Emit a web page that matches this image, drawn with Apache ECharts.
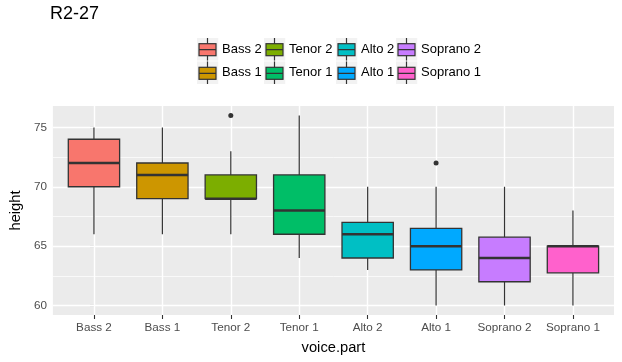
<!DOCTYPE html>
<html>
<head>
<meta charset="utf-8">
<script src="https://cdn.jsdelivr.net/npm/echarts@6/dist/echarts.min.js"></script>
<style>html,body{margin:0;padding:0;background:#fff;}#c{width:622px;height:362px;}</style>
</head>
<body>
<div id="c"></div>
<script>
// ---- data ----
const categories = ['Bass 2', 'Bass 1', 'Tenor 2', 'Tenor 1', 'Alto 2', 'Alto 1', 'Soprano 2', 'Soprano 1'];
const whiskerLow  = [66, 66, 66, 64, 63, 60, 60, 60];
const q1Values    = [70, 69, 69, 66, 64, 63, 62, 62.75];
const medians     = [72, 71, 69, 68, 66, 65, 64, 65];
const q3Values    = [74, 72, 71, 71, 67, 66.5, 65.75, 65];
const whiskerHigh = [75, 75, 73, 76, 70, 70, 70, 68];
const outliers    = [[2, 76], [5, 72]]; // [category index, height]
const yTicks      = [60, 65, 70, 75];
const yMinorTicks = [62.5, 67.5, 72.5];
const colors = ['#F8766D', '#CD9600', '#7CAE00', '#00BE67', '#00BFC4', '#00A9FF', '#C77CFF', '#FF61CC'];
// legend layout: columns (top row / bottom row)
const legendColumns = [['Bass 2', 'Bass 1'], ['Tenor 2', 'Tenor 1'], ['Alto 2', 'Alto 1'], ['Soprano 2', 'Soprano 1']];

const FONT = 'Liberation Sans, Arial, sans-serif';
const xIdx = categories.map((c, i) => i);
const boxData = categories.map((c, i) => [i, whiskerLow[i], q1Values[i], medians[i], q3Values[i], whiskerHigh[i]]);

function keyIcon(color) {
  const svg = "<svg xmlns='http://www.w3.org/2000/svg' width='22' height='23'>" +
    "<rect width='22' height='23' fill='#F2F2F2'/>" +
    "<line x1='11' y1='0' x2='11' y2='23' stroke='#333333' stroke-width='1.2'/>" +
    "<rect x='2.5' y='6' width='17' height='12' fill='" + color + "' stroke='#333333' stroke-width='1.2'/>" +
    "<line x1='2.5' y1='12' x2='19.5' y2='12' stroke='#333333' stroke-width='1.2'/>" +
    "</svg>";
  return 'image://data:image/svg+xml;charset=utf-8,' + encodeURIComponent(svg);
}

const legendLeft = [196.5, 263.5, 335.5, 395.5];
const legends = legendColumns.map((col, k) => ({
  orient: 'vertical',
  left: legendLeft[k],
  top: 37.7,
  padding: 0,
  itemWidth: 22,
  itemHeight: 23,
  itemGap: 0.6,
  selectedMode: false,
  itemStyle: { opacity: 1 },
  textStyle: { fontFamily: FONT, fontSize: 13, color: '#000000', padding: [0, 0, 0, -1.5] },
  data: col.map(name => ({ name: name, icon: keyIcon(colors[categories.indexOf(name)]) }))
}));

const gridLines = [];
yTicks.forEach(v => gridLines.push({ yAxis: v, lineStyle: { width: 1.4 } }));
yMinorTicks.forEach(v => gridLines.push({ yAxis: v, lineStyle: { width: 0.7 } }));
xIdx.forEach(v => gridLines.push({ xAxis: v, lineStyle: { width: 1.4 } }));

const series = [];
// dummy series for legend + grid lines
categories.forEach((name, i) => {
  const s = { name: name, type: 'scatter', data: [], itemStyle: { color: colors[i], opacity: 1 } };
  if (i === 0) {
    s.markLine = {
      silent: true, symbol: 'none', animation: false, z: 1,
      label: { show: false },
      lineStyle: { color: '#FFFFFF', type: 'solid', width: 1.4, opacity: 1 },
      emphasis: { disabled: true },
      data: gridLines
    };
  }
  series.push(s);
});

series.push({
  type: 'custom',
  name: 'boxes',
  z: 3,
  animation: false,
  data: boxData,
  encode: { x: 0, y: [1, 2, 3, 4, 5] },
  renderItem: function (params, api) {
    const x = api.value(0);
    const cx = api.coord([x, 0])[0];
    const yLo = api.coord([x, api.value(1)])[1];
    const yQ1 = api.coord([x, api.value(2)])[1];
    const yMed = api.coord([x, api.value(3)])[1];
    const yQ3 = api.coord([x, api.value(4)])[1];
    const yHi = api.coord([x, api.value(5)])[1];
    const half = (api.coord([x + 0.375, 0])[0] - api.coord([x - 0.375, 0])[0]) / 2;
    const col = colors[params.dataIndex];
    return {
      type: 'group',
      children: [
        { type: 'line', shape: { x1: cx, y1: yHi, x2: cx, y2: yQ3 }, style: { stroke: '#333333', lineWidth: 1.2 } },
        { type: 'line', shape: { x1: cx, y1: yQ1, x2: cx, y2: yLo }, style: { stroke: '#333333', lineWidth: 1.2 } },
        { type: 'rect', shape: { x: cx - half, y: yQ3, width: 2 * half, height: yQ1 - yQ3 }, style: { fill: col, stroke: '#333333', lineWidth: 1.3 } },
        { type: 'line', shape: { x1: cx - half, y1: yMed, x2: cx + half, y2: yMed }, style: { stroke: '#333333', lineWidth: 2.5 } }
      ]
    };
  }
});

series.push({
  type: 'scatter',
  name: 'outliers',
  z: 4,
  animation: false,
  symbolSize: 5,
  itemStyle: { color: '#333333', opacity: 1 },
  data: outliers
});

const option = {
  animation: false,
  backgroundColor: '#FFFFFF',
  title: {
    text: 'R2-27', left: 50, top: 5, padding: 0,
    textStyle: { fontFamily: FONT, fontSize: 18, fontWeight: 'normal', color: '#000000' }
  },
  legend: legends,
  grid: {
    left: 50, right: 8, top: 106, bottom: 47,
    show: true, backgroundColor: '#EBEBEB', borderWidth: 0
  },
  xAxis: {
    type: 'value', min: -0.6, max: 7.6,
    name: 'voice.part', nameLocation: 'middle', nameGap: 25.5,
    nameTextStyle: { fontFamily: FONT, fontSize: 14.7, color: '#000000' },
    axisLine: { show: false },
    splitLine: { show: false },
    axisTick: { show: true, length: 4, customValues: xIdx, lineStyle: { color: '#333333', width: 1.1 } },
    axisLabel: {
      customValues: xIdx, margin: 7,
      fontFamily: FONT, fontSize: 11.7, color: '#4D4D4D',
      formatter: v => categories[Math.round(v)]
    }
  },
  yAxis: {
    type: 'value', min: 59.2, max: 76.8,
    name: 'height', nameLocation: 'middle', nameGap: 26, nameRotate: 90,
    nameTextStyle: { fontFamily: FONT, fontSize: 14.7, color: '#000000' },
    axisLine: { show: false },
    splitLine: { show: false },
    axisTick: { show: true, length: 4, customValues: yTicks, lineStyle: { color: '#333333', width: 1.1 } },
    axisLabel: {
      customValues: yTicks, margin: 6,
      fontFamily: FONT, fontSize: 11.7, color: '#4D4D4D'
    }
  },
  series: series
};

const chart = echarts.init(document.getElementById('c'), null, { renderer: 'canvas' });
chart.setOption(option);
</script>
</body>
</html>
